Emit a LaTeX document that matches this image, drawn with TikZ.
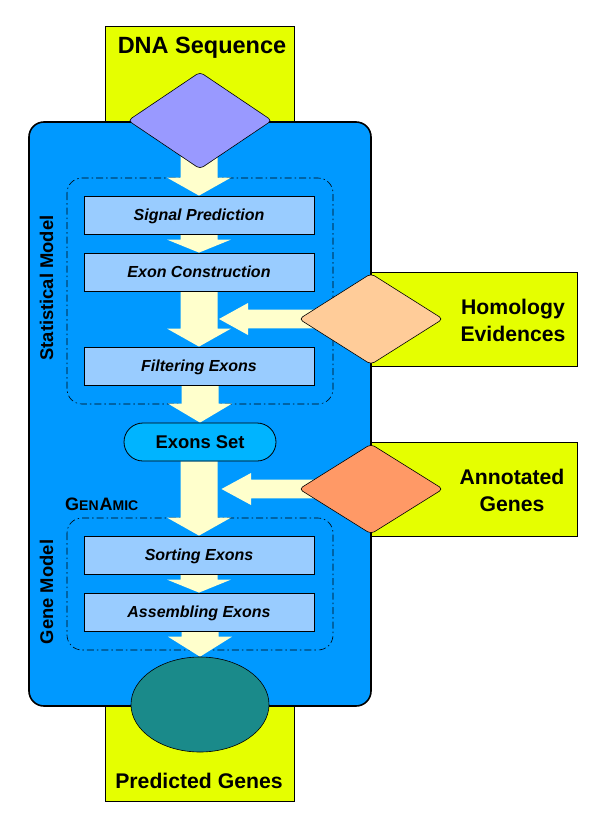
\documentclass[tikz,border=0pt]{standalone}
\usepackage{fontspec}
\setmainfont{Liberation Sans}
\usetikzlibrary{shapes.geometric,calc}
\definecolor{yel}{HTML}{E5FF00}
\definecolor{bigblue}{HTML}{0099FF}
\definecolor{boxblue}{HTML}{99CCFF}
\definecolor{setblue}{HTML}{00B4FF}
\definecolor{purp}{HTML}{9999FF}
\definecolor{peach}{HTML}{FFCC99}
\definecolor{orng}{HTML}{FF9966}
\definecolor{teal2}{HTML}{1A8A8A}
\definecolor{cream}{HTML}{FFFFCC}
\pgfdeclarelayer{bg}
\pgfdeclarelayer{mid}
\pgfsetlayers{bg,mid,main}
\tikzset{
  yelrect/.style={draw=black,fill=yel,line width=0.8pt},
  outerbox/.style={draw=black,fill=bigblue,line width=1.6pt,rounded corners=15pt},
  groupbox/.style={draw=black,line width=0.6pt,rounded corners=15pt,dash pattern=on 7pt off 3pt on 1.5pt off 3pt},
  stepbox/.style={draw=black,fill=boxblue,line width=0.8pt,minimum width=230pt,minimum height=38pt,inner sep=0pt,
     font=\fontsize{16}{16}\selectfont\bfseries\itshape,text height=11.5pt,text depth=0pt},
  setbox/.style={draw=black,fill=setblue,line width=0.8pt,minimum width=152pt,minimum height=38pt,inner sep=0pt,
     rounded corners=19pt,font=\fontsize{18.4}{18.4}\selectfont\bfseries,text height=13pt,text depth=0pt},
  dia/.style={diamond,draw=black,line width=0.6pt,inner sep=0pt,rounded corners=4pt,minimum width=144pt},
  blockfill/.style={fill=cream},
  bigtxt/.style={font=\fontsize{21.2}{21.2}\selectfont\bfseries,anchor=base,inner sep=0pt},
  sidetxt/.style={font=\fontsize{18.4}{18.4}\selectfont\bfseries,rotate=90,anchor=base,inner sep=0pt}
}
\newcommand\vblock[3]{%
  \fill[blockfill] let \p1=#2, \p2=#3 in
   (\x2-18.5pt,\y1) -- (\x2-18.5pt,\y2+#1pt) -- (\x2-32pt,\y2+#1pt) -- (\x2,\y2)
   -- (\x2+32pt,\y2+#1pt) -- (\x2+18.5pt,\y2+#1pt) -- (\x2+18.5pt,\y1) -- cycle;}
\newcommand\hblock[3]{%
  \fill[blockfill] let \p1=#2, \p2=#3 in
   (\x1,\y2+9.3pt) -- (\x2+#1pt,\y2+9.3pt) -- (\x2+#1pt,\y2+16pt) -- (\x2,\y2)
   -- (\x2+#1pt,\y2-16pt) -- (\x2+#1pt,\y2-9.3pt) -- (\x1,\y2-9.3pt) -- cycle;}
\begin{document}
\begin{tikzpicture}[x=1pt,y=-1pt]
\useasboundingbox (0,0) rectangle (600,825);
\begin{pgfonlayer}{bg}
% yellow input/output areas
\draw[yelrect] (105,26) rectangle (294,140);
\draw[yelrect] (105,690) rectangle (294,801);
\draw[yelrect] (360,272) rectangle (577,366);
\draw[yelrect] (360,442) rectangle (577,536);
% main blue box
\draw[outerbox] (29,122) rectangle (371,706);
% dashed groups
\draw[groupbox] (67,178) rectangle (333,404);
\draw[groupbox] (67,518) rectangle (333,650);
\end{pgfonlayer}
% nodes
\node[stepbox] (sig) at (199,215) {Signal Prediction};
\node[stepbox] (exc) at (199,272) {Exon Construction};
\node[stepbox] (filt) at (199,366) {Filtering Exons};
\node[setbox] (exset) at (200,442) {Exons Set};
\node[stepbox] (sort) at (199,555) {Sorting Exons};
\node[stepbox] (asm) at (199,612) {Assembling Exons};
\node[dia,fill=purp,minimum height=97pt] (dna) at (200,120.5) {};
\node[dia,fill=peach,minimum height=91pt] (hom) at (371,319) {};
\node[dia,fill=orng,minimum height=90pt] (ann) at (371,489) {};
\node[ellipse,draw=black,line width=0.6pt,fill=teal2,minimum width=138pt,minimum height=95pt,inner sep=0pt] (pred) at (200,704.5) {};
\coordinate (htip) at (219,319);
\coordinate (atip) at (221.5,489);
% block arrows (behind the nodes)
\begin{pgfonlayer}{mid}
\vblock{18}{(dna.center)}{(sig.north)}
\vblock{13}{(sig.south)}{(exc.north)}
\vblock{18}{(exc.south)}{(filt.north)}
\vblock{19}{(filt.south)}{(exset.north)}
\vblock{18}{(exset.south)}{(sort.north)}
\vblock{13}{(sort.south)}{(asm.north)}
\vblock{20}{(asm.south)}{(pred.north)}
\hblock{29}{(hom.center)}{(htip)}
\hblock{29.5}{(ann.center)}{(atip)}
\end{pgfonlayer}
% texts
\node[bigtxt,font=\fontsize{23.5}{23.5}\selectfont\bfseries] (tdna) at (202,53.3) {DNA Sequence};
\node[bigtxt] (tpred) at (199,788.7) {Predicted Genes};
\node[bigtxt] (thom1) at (513,314) {Homology};
\node[bigtxt] (thom2) at (513,341.7) {Evidences};
\node[bigtxt] (tann1) at (512,484) {Annotated};
\node[bigtxt] (tann2) at (512,511.7) {Genes};
\node[sidetxt] (tstat) at (53,288) {Statistical Model};
\node[sidetxt] (tgene) at (53,592) {Gene Model};
\node[anchor=base west,inner sep=0pt,font=\bfseries] (tgen) at (65,510)
  {{\fontsize{18}{18}\selectfont G}{\fontsize{14}{14}\selectfont EN}\kern1pt{\fontsize{18}{18}\selectfont A}{\fontsize{14}{14}\selectfont MIC}};
\end{tikzpicture}
\end{document}
